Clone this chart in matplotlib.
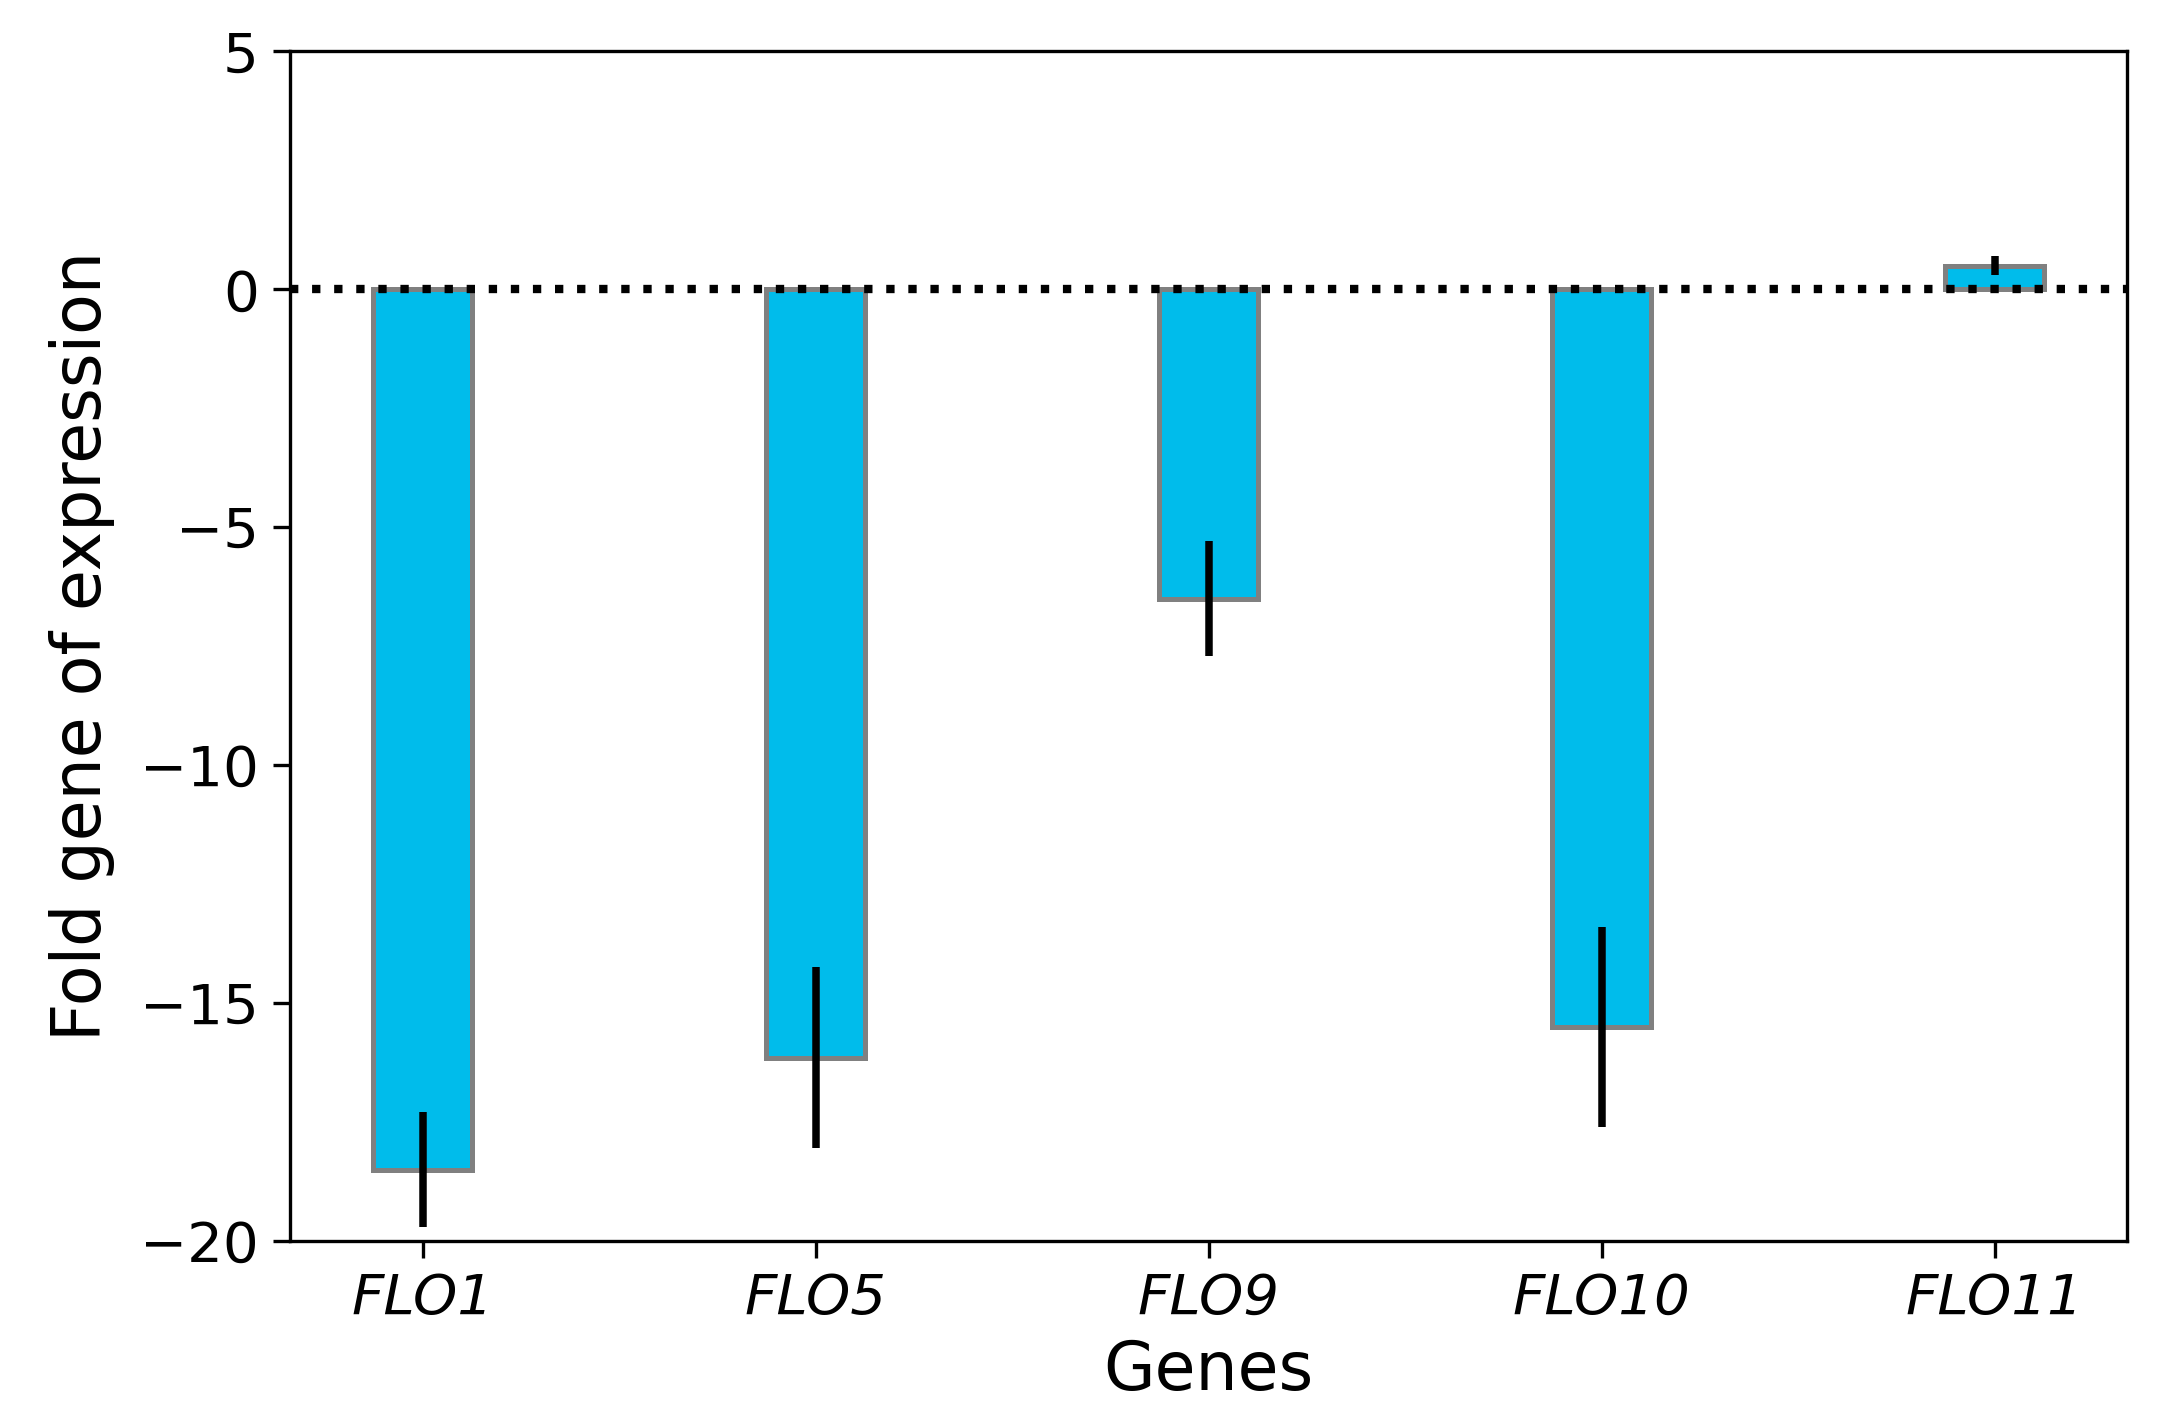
import matplotlib
matplotlib.use("Agg")
import matplotlib.pyplot as plt
import numpy as np

# fold change per gene
genes = ["FLO1", "FLO5", "FLO9", "FLO10", "FLO11"]
fold = [-18.5, -16.15, -6.5, -15.5, 0.5]
err = [1.2, 1.9, 1.2, 2.1, 0.2]

plt.rcParams['font.family'] = ['DejaVu Sans']

fig = plt.figure(figsize=(2164 / 300, 1428 / 300), dpi=300)
ax = fig.add_axes([0.134, 0.131, 0.849, 0.833])

x = np.arange(len(genes))
ax.bar(x, fold, width=0.25, color='#00BCEB', edgecolor='gray', linewidth=1.2,
       yerr=err, error_kw=dict(ecolor='black', elinewidth=1.8, capsize=0))
ax.axhline(0, color='black', linestyle=':', linewidth=2)

ax.set_ylim(-20, 5)
ax.set_yticks([-20, -15, -10, -5, 0, 5])
ax.set_xticks(x)
ax.set_xticklabels(genes, fontstyle='italic')
ax.tick_params(labelsize=13.5, length=4)
ax.set_xlabel("Genes", fontsize=16, labelpad=3)
ax.set_ylabel("Fold gene of expression", fontsize=16, labelpad=6)

fig.savefig("out.png", dpi=300)
